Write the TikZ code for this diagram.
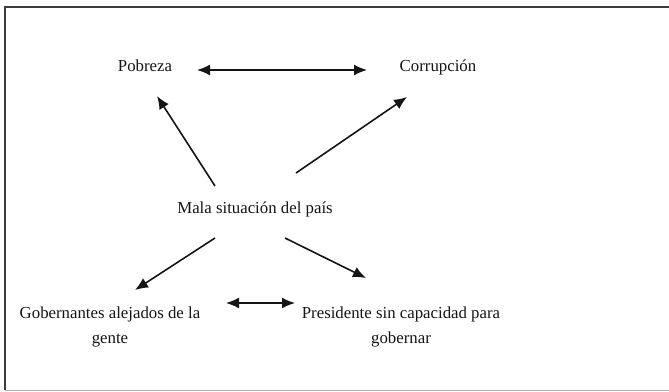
\documentclass[tikz,border=0pt]{standalone}
\usepackage{fontspec}
\setmainfont{Liberation Serif}
\usetikzlibrary{arrows.meta}
\definecolor{ink}{HTML}{151515}
\definecolor{framec}{HTML}{3C3C3C}
\begin{document}
\begin{tikzpicture}[x=1pt,y=-1pt,
  lbl/.style={inner sep=0pt,text=ink,font=\fontsize{16.8}{25}\selectfont},
  one/.style={lbl,text height=11.5pt,text depth=3.6pt},
  two/.style={lbl,align=center},
  conn/.style={draw=ink,line width=1.6pt,-{Latex[length=13pt,width=11pt]}},
  dconn/.style={draw=ink,line width=1.6pt,{Latex[length=13pt,width=11pt]}-{Latex[length=13pt,width=11pt]}}]
\useasboundingbox (0,0) rectangle (669,391);
\fill[white] (0,0) rectangle (669,391);
\draw[framec,line width=1.8pt] (669,7) -- (5,7) -- (5,390);
\draw[framec!40,line width=1pt] (5,390) -- (669,390);

\node[one] (p) at (145,68) {Pobreza};
\node[one] (c) at (438,68) {Corrupción};
\node[one] (m) at (255,210) {Mala situación del país};
\node[two] (g) at (110,326.6) {Gobernantes alejados de la\\gente};
\node[two] (r) at (401,326.6) {Presidente sin capacidad para\\gobernar};

\draw[dconn] ([shift={(52,2)}]p.center) -- ([shift={(-71,2)}]c.center);
\draw[conn] ([shift={(-40,-24)}]m.center) -- ([shift={(12,28)}]p.center);
\draw[conn] ([shift={(41,-37)}]m.center) -- ([shift={(-31,29)}]c.center);
\draw[conn] ([shift={(-40,28)}]m.center) -- ([shift={(25,-36.6)}]g.center);
\draw[conn] ([shift={(30,28)}]m.center) -- ([shift={(-35,-48.6)}]r.center);
\draw[dconn] ([shift={(116,-23.6)}]g.center) -- ([shift={(-106,-23.6)}]r.center);
\end{tikzpicture}
\end{document}
